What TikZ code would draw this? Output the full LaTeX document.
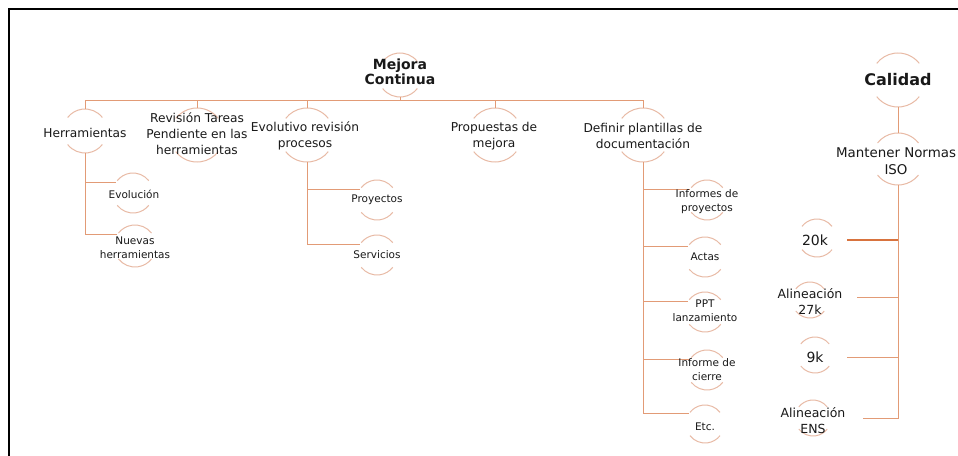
\documentclass[tikz,border=0pt]{standalone}
\usepackage{fontspec}
\setmainfont{DejaVu Sans}
\usetikzlibrary{calc}

\definecolor{conncol}{RGB}{226,155,118}
\definecolor{conndark}{RGB}{216,115,62}
\definecolor{arccol}{RGB}{232,186,165}
\definecolor{txtcol}{RGB}{25,25,25}

\tikzset{
  ring/.style={circle, draw=none, inner sep=0pt, outer sep=0pt, minimum size=#1},
  conn/.style={draw=conncol, line width=1pt},
  conndk/.style={draw=conndark, line width=1.3pt},
  arcline/.style={draw=arccol, line width=1pt},
  lbl/.style={text=txtcol, align=center, inner sep=0pt},
  tbig/.style={lbl, font=\bfseries\fontsize{14}{15}\selectfont},
  tcal/.style={lbl, font=\bfseries\fontsize{16}{18}\selectfont},
  tone/.style={lbl, font=\fontsize{12.2}{16}\selectfont},
  tsub/.style={lbl, font=\fontsize{10.5}{14}\selectfont},
  tiso/.style={lbl, font=\fontsize{13.4}{17}\selectfont},
  tnum/.style={lbl, font=\fontsize{14}{16}\selectfont},
  tali/.style={lbl, font=\fontsize{12.5}{16}\selectfont},
}

\begin{document}
\begin{tikzpicture}[x=1pt, y=-1pt]
\useasboundingbox (0,0) rectangle (958,455);
\fill[white] (0,0) rectangle (958,455);
% outer frame, running past the right and bottom edges
\draw[black, line width=2pt] (9,9) rectangle (980,480);

% ---- rings (circle outlines that carry the arcs and connector ends) ----
\node[ring=44pt] (mc) at (400,75) {};
\node[ring=44pt] (herr) at (85,131) {};
\node[ring=54pt] (rev) at (197,135) {};
\node[ring=54pt] (evo) at (307,135) {};
\node[ring=54pt] (prop) at (495,135) {};
\node[ring=54pt] (def) at (643,135) {};
\node[ring=40pt] (evol) at (133,193) {};
\node[ring=42pt] (nuev) at (135,246) {};
\node[ring=40pt] (proy) at (377,200) {};
\node[ring=40pt] (serv) at (377,255) {};
\node[ring=40pt] (inf) at (707,200) {};
\node[ring=40pt] (actas) at (705,257) {};
\node[ring=40pt] (ppt) at (705,312) {};
\node[ring=40pt] (cierre) at (707,370) {};
\node[ring=38pt] (etc) at (705,424) {};
\node[ring=54pt] (cal) at (898,80) {};
\node[ring=52pt] (mant) at (898,159) {};
\node[ring=38pt] (k20) at (817,238) {};
\node[ring=36pt] (k27) at (810,300) {};
\node[ring=36pt] (k9) at (815,355) {};
\node[ring=36pt] (ens) at (813,418) {};

% top and bottom arcs of every ring
\foreach \n/\r in {mc/22,herr/22,rev/27,evo/27,prop/27,def/27,evol/20,nuev/21,
                   proy/20,serv/20,inf/20,actas/20,ppt/20,cierre/20,etc/19,
                   cal/27,mant/26,k20/19,k27/18,k9/18,ens/18}{
  \draw[arcline] (\n.38) arc[start angle=38, end angle=142, radius=\r pt];
  \draw[arcline] (\n.218) arc[start angle=218, end angle=322, radius=\r pt];
}

% ---- connectors: Mejora Continua ----
\coordinate (bus) at (400,100);
\draw[conn] (mc.south) -- (bus);
\foreach \n in {herr,rev,evo,prop,def}{
  \draw[conn] (bus) -| (\n.north);
}
\draw[conn] (herr.south) |- (evol.147);
\draw[conn] (herr.south) |- (nuev.147);
\draw[conn] (evo.south) |- (proy.147);
\draw[conn] (evo.south) |- (serv.147);
\foreach \n in {inf,actas,ppt,cierre,etc}{
  \draw[conn] (def.south) |- (\n.147);
}

% ---- connectors: Calidad ----
\draw[conn] (cal.south) -- (mant.north);
\draw[conn] (mant.south) |- ($(k27.east)+(29,-3)$);
\draw[conn] (mant.south) |- ($(k9.east)+(14,2)$);
\draw[conn] (mant.south) |- ($(ens.east)+(32,0)$);
\draw[conndk] (mant.south |- k20) ++(0,2) -- ($(k20.east)+(11,2)$);

% ---- labels ----
\node[tbig] (mc-t) at (400,72) {Mejora\\Continua};
\node[tone] (herr-t) at (85,133) {Herramientas};
\node[tone] (rev-t) at (197,134) {Revisión Tareas\\Pendiente en las\\herramientas};
\node[tone] (evo-t) at (305,136) {Evolutivo revisión\\procesos};
\node[tone] (prop-t) at (494,136) {Propuestas de\\mejora};
\node[tone] (def-t) at (643,136) {Definir plantillas de\\documentación};
\node[tsub] (evol-t) at (134,194) {Evolución};
\node[tsub] (nuev-t) at (135,248) {Nuevas\\herramientas};
\node[tsub] (proy-t) at (377,200) {Proyectos};
\node[tsub] (serv-t) at (377,255) {Servicios};
\node[tsub] (inf-t) at (707,202) {Informes de\\proyectos};
\node[tsub] (actas-t) at (705,257) {Actas};
\node[tsub] (ppt-t) at (705,311) {PPT\\lanzamiento};
\node[tsub] (cierre-t) at (707,370) {Informe de\\cierre};
\node[tsub] (etc-t) at (705,427) {Etc.};
\node[tcal] (cal-t) at (898,80) {Calidad};
\node[tiso] (mant-t) at (896,161) {Mantener Normas\\ISO};
\node[tnum] (k20-t) at (815,240) {20k};
\node[tali] (k27-t) at (810,301) {Alineación\\27k};
\node[tnum] (k9-t) at (815,357) {9k};
\node[tali] (ens-t) at (813,421) {Alineación\\ENS};
\end{tikzpicture}
\end{document}
